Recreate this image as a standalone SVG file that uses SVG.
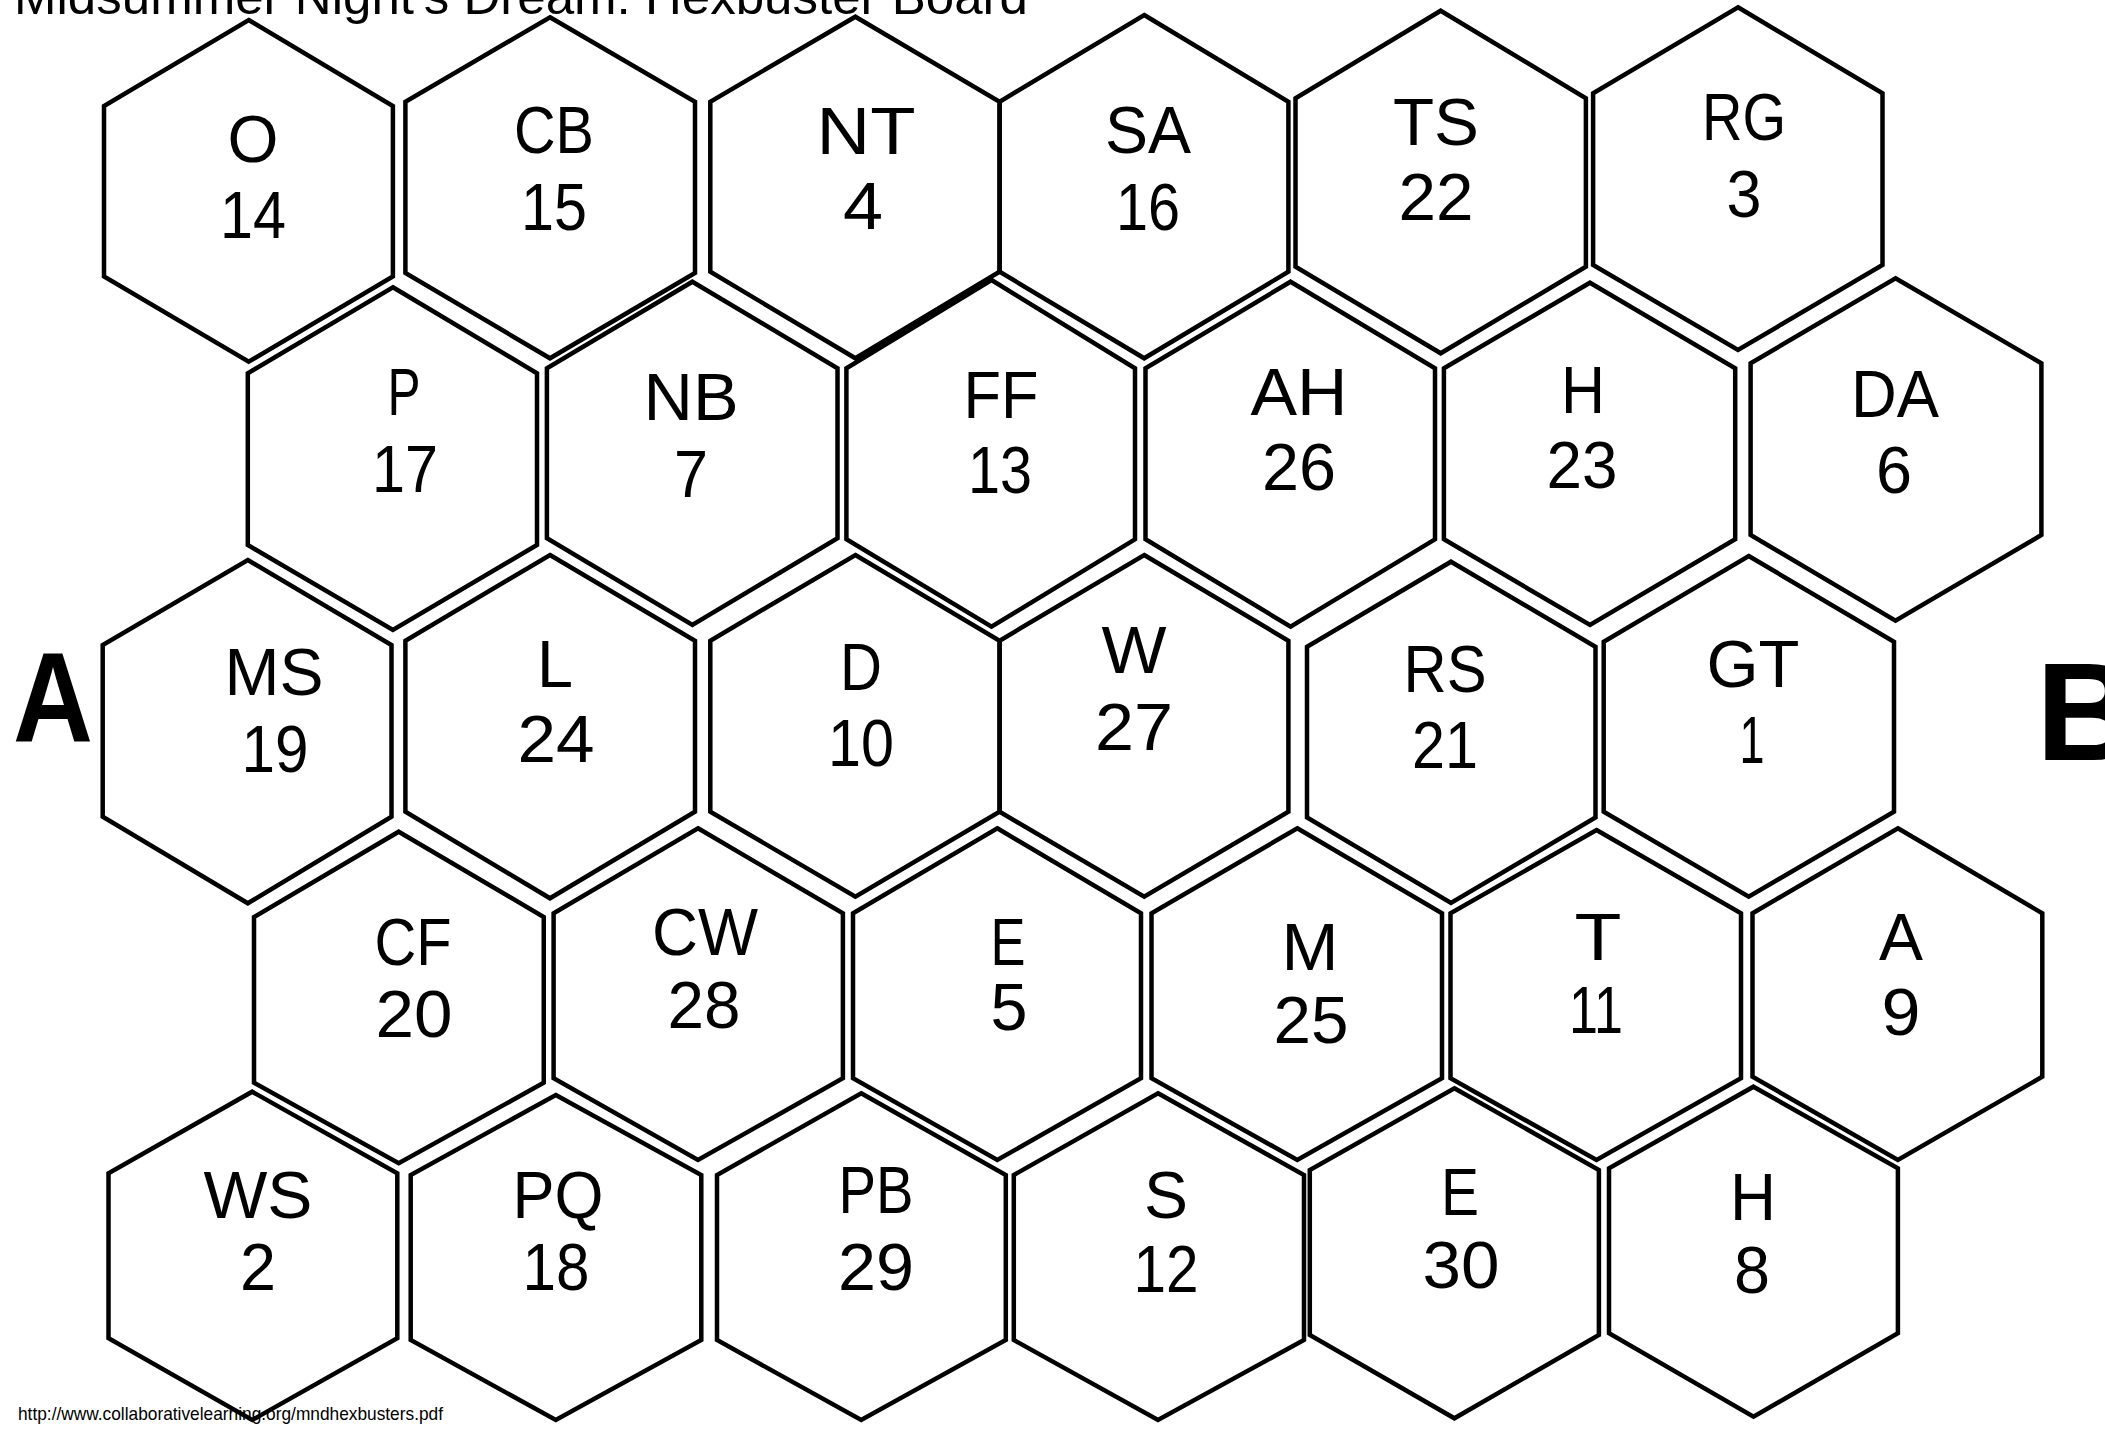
<svg xmlns="http://www.w3.org/2000/svg" width="2105" height="1443" viewBox="0 0 2105 1443">
<style>
.hex{fill:none;stroke:#000;stroke-width:4.5;stroke-linejoin:miter}
.lb{font-family:"Liberation Sans",Arial,sans-serif;font-size:66px;fill:#000;text-anchor:middle}
.big{font-family:"Liberation Sans",Arial,sans-serif;font-weight:bold;fill:#000}
.ttl{font-family:"Liberation Sans",Arial,sans-serif;font-size:50px;fill:#000}
.url{font-family:"Liberation Sans",Arial,sans-serif;font-size:19px;fill:#000}
</style>
<rect width="2105" height="1443" fill="#fff"/>
<text class="ttl" x="14" y="14" textLength="1014" lengthAdjust="spacingAndGlyphs">Midsummer Night's Dream: Hexbuster Board</text>
<g id="nodes">
<g id="hex-O"><polygon class="hex" points="248.7,20 392.9,106 392.9,276.5 248.7,361.7 104,276.5 104,106"/><text class="lb" x="253" y="162" textLength="51" lengthAdjust="spacingAndGlyphs">O</text><text class="lb" x="253" y="238" textLength="66" lengthAdjust="spacingAndGlyphs">14</text></g>
<g id="hex-CB"><polygon class="hex" points="550,17.3 695,101.7 695,273 550,358.3 405.4,273 405.4,101.7"/><text class="lb" x="554" y="153" textLength="80" lengthAdjust="spacingAndGlyphs">CB</text><text class="lb" x="554" y="230" textLength="66" lengthAdjust="spacingAndGlyphs">15</text></g>
<g id="hex-NT"><polygon class="hex" points="855.4,16.7 999.6,101.7 999.6,271.7 855.4,358.3 710.3,271.7 710.3,101.7"/><text class="lb" x="866" y="154" textLength="99" lengthAdjust="spacingAndGlyphs">NT</text><text class="lb" x="863" y="229" textLength="40" lengthAdjust="spacingAndGlyphs">4</text></g>
<g id="hex-SA"><polygon class="hex" points="1144.2,15 1288.4,101.7 1288.4,271.7 1144.2,358.3 999.6,271.7 999.6,101.7"/><text class="lb" x="1148" y="153" textLength="86" lengthAdjust="spacingAndGlyphs">SA</text><text class="lb" x="1148" y="230" textLength="64" lengthAdjust="spacingAndGlyphs">16</text></g>
<g id="hex-TS"><polygon class="hex" points="1440.7,10.7 1585.9,98.3 1585.9,266.7 1440.7,353.3 1295.5,266.7 1295.5,98.3"/><text class="lb" x="1436" y="145" textLength="86" lengthAdjust="spacingAndGlyphs">TS</text><text class="lb" x="1436" y="220" textLength="75" lengthAdjust="spacingAndGlyphs">22</text></g>
<g id="hex-RG"><polygon class="hex" points="1738,7.3 1882.5,93.3 1882.5,265 1738,350 1593.1,265 1593.1,93.3"/><text class="lb" x="1744" y="140" textLength="84" lengthAdjust="spacingAndGlyphs">RG</text><text class="lb" x="1744" y="217" textLength="35" lengthAdjust="spacingAndGlyphs">3</text></g>
<g id="hex-P"><polygon class="hex" points="392.9,287.3 537,373.3 537,545 392.9,630 247.8,545 247.8,373.3"/><text class="lb" x="404" y="415" textLength="33" lengthAdjust="spacingAndGlyphs">P</text><text class="lb" x="405" y="492" textLength="66" lengthAdjust="spacingAndGlyphs">17</text></g>
<g id="hex-NB"><polygon class="hex" points="692.4,281.7 837.5,368.3 837.5,538.3 692.4,625 546.9,538.3 546.9,368.3"/><text class="lb" x="691" y="420" textLength="95" lengthAdjust="spacingAndGlyphs">NB</text><text class="lb" x="691" y="497" textLength="34" lengthAdjust="spacingAndGlyphs">7</text></g>
<g id="hex-FF"><polygon class="hex" points="991.5,280 1135,368.3 1135,539.3 991.5,626.7 846.4,539.3 846.4,368.3"/><text class="lb" x="1001" y="418" textLength="75" lengthAdjust="spacingAndGlyphs">FF</text><text class="lb" x="1000" y="493" textLength="64" lengthAdjust="spacingAndGlyphs">13</text></g>
<g id="hex-AH"><polygon class="hex" points="1290.6,281.7 1435,368.3 1435,539.3 1290.6,626.7 1145.5,539.3 1145.5,368.3"/><text class="lb" x="1299" y="415" textLength="97" lengthAdjust="spacingAndGlyphs">AH</text><text class="lb" x="1299" y="490" textLength="74" lengthAdjust="spacingAndGlyphs">26</text></g>
<g id="hex-H1"><polygon class="hex" points="1590,282.7 1735.2,368.3 1735.2,539.3 1590,625 1443.9,539.3 1443.9,368.3"/><text class="lb" x="1583" y="413" textLength="44" lengthAdjust="spacingAndGlyphs">H</text><text class="lb" x="1582" y="488" textLength="71" lengthAdjust="spacingAndGlyphs">23</text></g>
<g id="hex-DA"><polygon class="hex" points="1895.5,278.3 2041.4,363.3 2041.4,535 1895.5,620.7 1750.6,535 1750.6,363.3"/><text class="lb" x="1895" y="417" textLength="88" lengthAdjust="spacingAndGlyphs">DA</text><text class="lb" x="1894" y="493" textLength="36" lengthAdjust="spacingAndGlyphs">6</text></g>
<g id="hex-MS"><polygon class="hex" points="247.8,560 391.5,645 391.5,816.7 247.8,903.3 102.7,816.7 102.7,645"/><text class="lb" x="274" y="695" textLength="99" lengthAdjust="spacingAndGlyphs">MS</text><text class="lb" x="275" y="772" textLength="67" lengthAdjust="spacingAndGlyphs">19</text></g>
<g id="hex-L"><polygon class="hex" points="550,555 695,640.7 695,811.7 550,898.3 405.4,811.7 405.4,640.7"/><text class="lb" x="555" y="687" textLength="36" lengthAdjust="spacingAndGlyphs">L</text><text class="lb" x="556" y="762" textLength="77" lengthAdjust="spacingAndGlyphs">24</text></g>
<g id="hex-D"><polygon class="hex" points="855.4,555 999.6,640.7 999.6,811.7 855.4,896.7 710.3,811.7 710.3,640.7"/><text class="lb" x="861" y="690" textLength="42" lengthAdjust="spacingAndGlyphs">D</text><text class="lb" x="861" y="766" textLength="66" lengthAdjust="spacingAndGlyphs">10</text></g>
<g id="hex-W"><polygon class="hex" points="1144.2,555 1288.4,640.7 1288.4,811.7 1144.2,896.7 999.6,811.7 999.6,640.7"/><text class="lb" x="1134" y="673" textLength="65" lengthAdjust="spacingAndGlyphs">W</text><text class="lb" x="1134" y="750" textLength="78" lengthAdjust="spacingAndGlyphs">27</text></g>
<g id="hex-RS"><polygon class="hex" points="1451,561.7 1595.5,646.7 1595.5,817.5 1451,903 1307,817.5 1307,646.7"/><text class="lb" x="1445" y="692" textLength="83" lengthAdjust="spacingAndGlyphs">RS</text><text class="lb" x="1445" y="768" textLength="66" lengthAdjust="spacingAndGlyphs">21</text></g>
<g id="hex-GT"><polygon class="hex" points="1748.7,556 1894,641.7 1894,811.7 1748.7,896.7 1603.7,811.7 1603.7,641.7"/><text class="lb" x="1753" y="687" textLength="93" lengthAdjust="spacingAndGlyphs">GT</text><text class="lb" x="1752" y="763" textLength="25" lengthAdjust="spacingAndGlyphs">1</text></g>
<g id="hex-CF"><polygon class="hex" points="398.7,831.7 543.75,917 543.75,1082.7 398.7,1163.3 254,1082.7 254,917"/><text class="lb" x="413" y="965" textLength="77" lengthAdjust="spacingAndGlyphs">CF</text><text class="lb" x="414" y="1037" textLength="77" lengthAdjust="spacingAndGlyphs">20</text></g>
<g id="hex-CW"><polygon class="hex" points="698,828.3 842.9,913.3 842.9,1078.3 698,1160 553.6,1078.3 553.6,913.3"/><text class="lb" x="705" y="955" textLength="106" lengthAdjust="spacingAndGlyphs">CW</text><text class="lb" x="704" y="1028" textLength="73" lengthAdjust="spacingAndGlyphs">28</text></g>
<g id="hex-E1"><polygon class="hex" points="997.3,828.3 1141,913.3 1141,1078.3 997.3,1160 853,1078.3 853,913.3"/><text class="lb" x="1008" y="965" textLength="35" lengthAdjust="spacingAndGlyphs">E</text><text class="lb" x="1009" y="1030" textLength="37" lengthAdjust="spacingAndGlyphs">5</text></g>
<g id="hex-M"><polygon class="hex" points="1297.3,828.3 1442,913.3 1442,1078.3 1297.3,1160 1151.5,1078.3 1151.5,913.3"/><text class="lb" x="1310" y="970" textLength="57" lengthAdjust="spacingAndGlyphs">M</text><text class="lb" x="1311" y="1043" textLength="75" lengthAdjust="spacingAndGlyphs">25</text></g>
<g id="hex-T"><polygon class="hex" points="1596.5,830 1741,913.3 1741,1078.3 1596.5,1160 1450.5,1078.3 1450.5,913.3"/><text class="lb" x="1598" y="960" textLength="47" lengthAdjust="spacingAndGlyphs">T</text><text class="lb" x="1596" y="1033" textLength="54" lengthAdjust="spacingAndGlyphs">11</text></g>
<g id="hex-A"><polygon class="hex" points="1897.9,828.3 2042.3,913.3 2042.3,1076.7 1897.9,1160 1752.5,1076.7 1752.5,913.3"/><text class="lb" x="1901" y="960" textLength="44" lengthAdjust="spacingAndGlyphs">A</text><text class="lb" x="1901" y="1035" textLength="39" lengthAdjust="spacingAndGlyphs">9</text></g>
<g id="hex-WS"><polygon class="hex" points="252.2,1091.7 397.3,1173.3 397.3,1338.3 252.2,1420 108.5,1338.3 108.5,1173.3"/><text class="lb" x="258" y="1218" textLength="109" lengthAdjust="spacingAndGlyphs">WS</text><text class="lb" x="258" y="1290" textLength="36" lengthAdjust="spacingAndGlyphs">2</text></g>
<g id="hex-PQ"><polygon class="hex" points="555.8,1095 701.3,1175 701.3,1340 555.8,1420 410.7,1340 410.7,1175"/><text class="lb" x="558" y="1218" textLength="91" lengthAdjust="spacingAndGlyphs">PQ</text><text class="lb" x="556" y="1290" textLength="67" lengthAdjust="spacingAndGlyphs">18</text></g>
<g id="hex-PB"><polygon class="hex" points="861.2,1093.3 1005.8,1175 1005.8,1340 861.2,1420 717,1340 717,1175"/><text class="lb" x="876" y="1213" textLength="75" lengthAdjust="spacingAndGlyphs">PB</text><text class="lb" x="876" y="1290" textLength="76" lengthAdjust="spacingAndGlyphs">29</text></g>
<g id="hex-S"><polygon class="hex" points="1158,1093.3 1304,1175 1304,1340 1158,1420 1013.8,1340 1013.8,1175"/><text class="lb" x="1166" y="1218" textLength="44" lengthAdjust="spacingAndGlyphs">S</text><text class="lb" x="1166" y="1292" textLength="65" lengthAdjust="spacingAndGlyphs">12</text></g>
<g id="hex-E2"><polygon class="hex" points="1454.4,1088.3 1598.9,1170 1598.9,1335 1454.4,1418.3 1309.8,1335 1309.8,1170"/><text class="lb" x="1460" y="1215" textLength="38" lengthAdjust="spacingAndGlyphs">E</text><text class="lb" x="1461" y="1288" textLength="77" lengthAdjust="spacingAndGlyphs">30</text></g>
<g id="hex-H2"><polygon class="hex" points="1753.5,1086.7 1897.9,1168.3 1897.9,1333.3 1753.5,1416.7 1609,1333.3 1609,1168.3"/><text class="lb" x="1753" y="1220" textLength="46" lengthAdjust="spacingAndGlyphs">H</text><text class="lb" x="1752" y="1293" textLength="36" lengthAdjust="spacingAndGlyphs">8</text></g>
</g>
<g id="connectors"/>
<text class="big" x="53" y="742" font-size="128" text-anchor="middle" textLength="80" lengthAdjust="spacingAndGlyphs">A</text>
<text class="big" x="2036" y="760" font-size="140">B</text>
<text class="url" x="18" y="1420" textLength="425" lengthAdjust="spacingAndGlyphs">http://www.collaborativelearning.org/mndhexbusters.pdf</text>
</svg>
